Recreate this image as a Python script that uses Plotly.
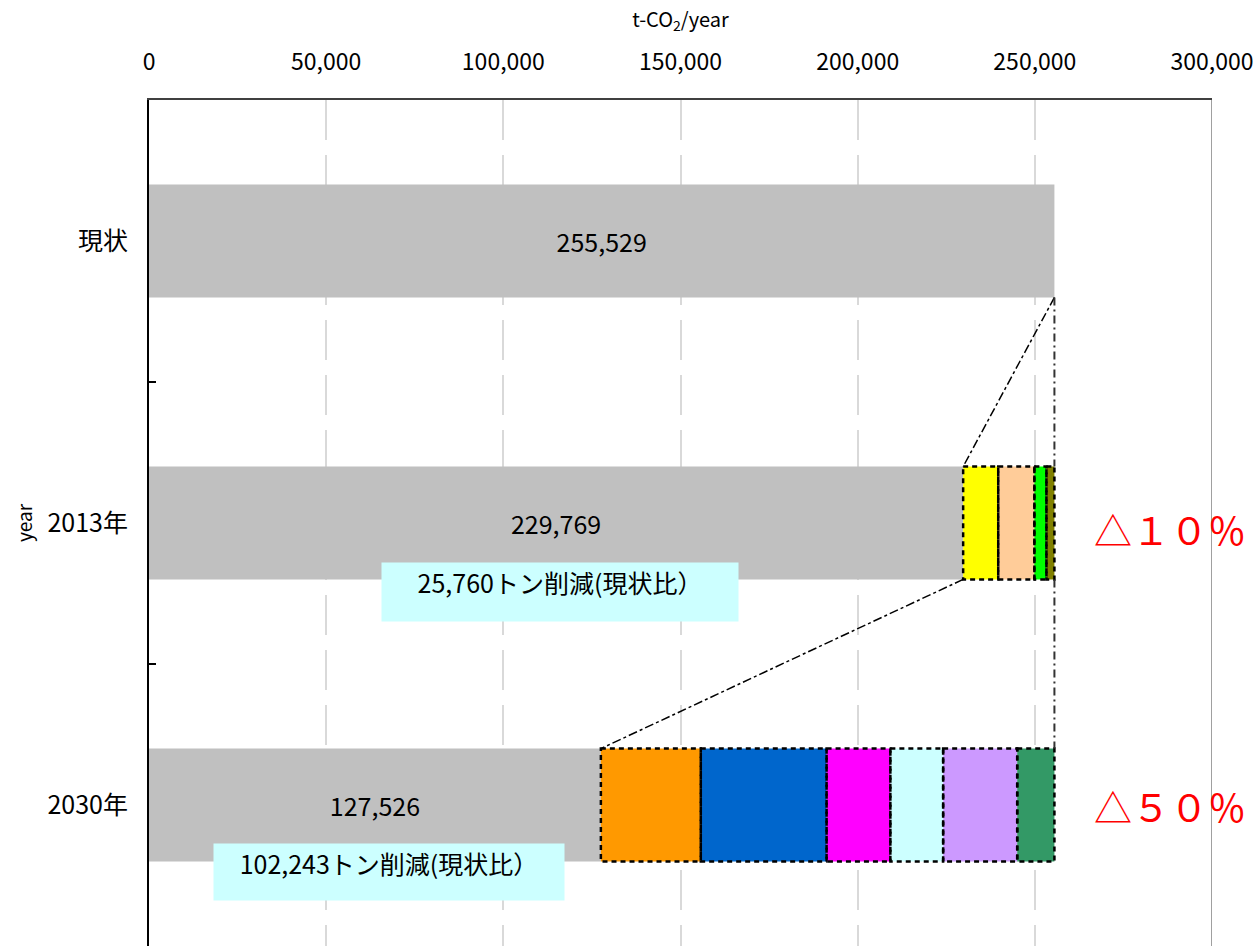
import plotly.graph_objects as go

# ---- data ----
categories = ["現状", "2013年", "2030年"]
base_values = [255529, 229769, 127526]
base_labels = ["255,529", "229,769", "127,526"]

seg2013_values = [9900, 10200, 3400, 2260]
seg2013_colors = ["#ffff00", "#ffcc99", "#00ff00", "#808000"]

seg2030_values = [28200, 35500, 18000, 14900, 20900, 10503]
seg2030_colors = ["#ff9900", "#0066cc", "#ff00ff", "#ccffff", "#cc99ff", "#339966"]

reduction_texts = ["25,760トン削減(現状比）", "102,243トン削減(現状比）"]
percent_texts = ["△１０％", "△５０％"]

x_ticks = [0, 50000, 100000, 150000, 200000, 250000, 300000]

FONT = "Noto Sans CJK JP"
BAR_W = 0.4

fig = go.Figure()
ypos = list(range(len(categories)))

fig.add_trace(go.Bar(
    x=base_values, y=ypos, orientation="h", width=BAR_W,
    marker=dict(color="#c0c0c0", line=dict(width=0)),
    text=base_labels, textposition="inside", insidetextanchor="middle",
    textfont=dict(size=25, color="black", family=FONT),
    hoverinfo="skip", showlegend=False,
))

shapes = []


def add_segments(row, values, colors):
    start = base_values[row]
    for v, c in zip(values, colors):
        fig.add_trace(go.Bar(
            x=[v], y=[row], base=[start], orientation="h", width=BAR_W,
            marker=dict(color=c, line=dict(width=0)),
            hoverinfo="skip", showlegend=False,
        ))
        shapes.append(dict(
            type="rect", xref="x", yref="y",
            x0=start, x1=start + v, y0=row - BAR_W / 2, y1=row + BAR_W / 2,
            line=dict(color="black", width=2.5, dash="5px,4px"), layer="above",
        ))
        start += v


add_segments(1, seg2013_values, seg2013_colors)
add_segments(2, seg2030_values, seg2030_colors)

# connector lines
for r in (0, 1):
    top_end = base_values[0]
    shapes.append(dict(type="line", xref="x", yref="y",
                       x0=base_values[r], y0=r + BAR_W / 2,
                       x1=base_values[r + 1], y1=r + 1 - BAR_W / 2,
                       line=dict(color="black", width=1.5, dash="dashdot")))
    shapes.append(dict(type="line", xref="x", yref="y",
                       x0=top_end, y0=r + BAR_W / 2,
                       x1=top_end, y1=r + 1 - BAR_W / 2,
                       line=dict(color="#333333", width=2, dash="8px,4px,2px,4px")))

# right border line
shapes.append(dict(type="line", xref="x", yref="paper",
                   x0=x_ticks[-1], x1=x_ticks[-1], y0=0, y1=1,
                   line=dict(color="#a0a0a0", width=2)))

pct_x = (1170 - 149) / (1212 - 149)
annotations = [
    dict(x=116000, y=1.245, xref="x", yref="y", text=reduction_texts[0],
         showarrow=False, bgcolor="#ccffff", width=354, height=56,
         valign="top", align="center",
         font=dict(size=25, color="black", family=FONT)),
    dict(x=67700, y=2.238, xref="x", yref="y", text=reduction_texts[1],
         showarrow=False, bgcolor="#ccffff", width=348, height=54,
         valign="top", align="center",
         font=dict(size=25, color="black", family=FONT)),
    dict(x=pct_x, y=1.02, xref="paper", yref="y", text=percent_texts[0],
         xanchor="center", showarrow=False,
         font=dict(size=38, color="red", family=FONT)),
    dict(x=pct_x, y=2.0, xref="paper", yref="y", text=percent_texts[1],
         xanchor="center", showarrow=False,
         font=dict(size=38, color="red", family=FONT)),
]

fig.update_layout(
    width=1254, height=946,
    margin=dict(l=149, r=42, t=100, b=0),
    paper_bgcolor="white", plot_bgcolor="white",
    barmode="overlay",
    font=dict(family=FONT, color="black"),
    shapes=shapes, annotations=annotations,
    xaxis=dict(
        side="top", range=[0, 300000], tickvals=x_ticks, tickformat=",",
        tickfont=dict(size=23, family=FONT), ticklabelstandoff=19,
        showgrid=True, gridcolor="#d9d9d9", gridwidth=2, griddash="40px,15px",
        showline=True, linecolor="#404040", linewidth=2, ticks="",
        zeroline=False,
        title=dict(text="t-CO<sub>2</sub>/year", font=dict(size=20, family=FONT), standoff=10),
    ),
    yaxis=dict(
        range=[2.5, -0.5], tickvals=ypos, ticktext=categories,
        tickfont=dict(size=25, family=FONT), ticklabelstandoff=14,
        showgrid=False, zeroline=False,
        showline=True, linecolor="black", linewidth=2, ticks="",
        minor=dict(tickvals=[0.5, 1.5], ticks="inside", ticklen=7,
                   tickcolor="black", tickwidth=2, showgrid=False),
        title=dict(text="year", font=dict(size=19, family=FONT), standoff=10),
    ),
)

fig.write_html("out.html")
